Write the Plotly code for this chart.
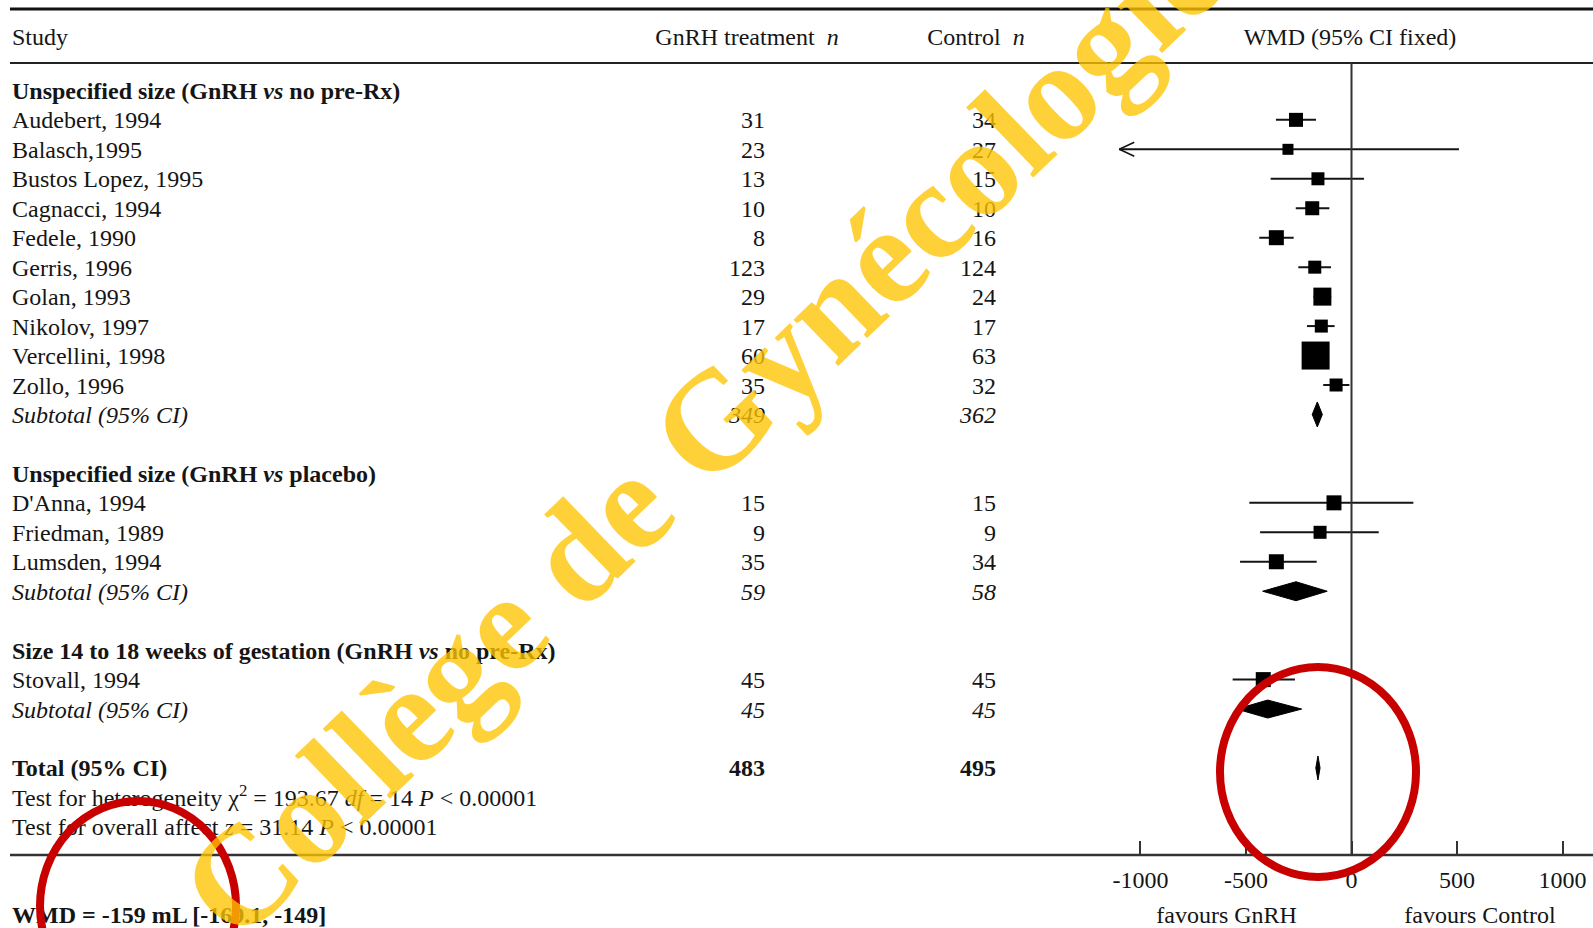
import plotly.graph_objects as go

# ---------------------------------------------------------------- data
GROUP_TITLES = [
    "Unspecified size (GnRH <i>vs</i> no pre-Rx)",
    "Unspecified size (GnRH <i>vs</i> placebo)",
    "Size 14 to 18 weeks of gestation (GnRH <i>vs</i> no pre-Rx)",
]
STUDIES = [
    "Audebert, 1994", "Balasch,1995", "Bustos Lopez, 1995", "Cagnacci, 1994",
    "Fedele, 1990", "Gerris, 1996", "Golan, 1993", "Nikolov, 1997",
    "Vercellini, 1998", "Zollo, 1996",
    "D'Anna, 1994", "Friedman, 1989", "Lumsden, 1994",
    "Stovall, 1994",
]
STUDY_GROUP = [0] * 10 + [1] * 3 + [2]
N_GNRH = [31, 23, 13, 10, 8, 123, 29, 17, 60, 35, 15, 9, 35, 45]
N_CTRL = [34, 27, 15, 10, 16, 124, 24, 17, 63, 32, 15, 9, 34, 45]
WMD = [-263, -301, -159, -186, -356, -174, -138, -143, -170, -73, -83, -149, -356, -418]
CI_LO = [-358, -1100, -383, -264, -437, -252, -180, -211, -210, -134, -484, -433, -528, -563]
CI_HI = [-168, 509, 59, -105, -274, -97, -96, -80, -130, -10, 293, 129, -165, -268]

SUB_N_GNRH = [349, 59, 45]
SUB_N_CTRL = [362, 58, 45]
SUB_WMD = [-162, -263, -397]
SUB_LO = [-186, -421, -544]
SUB_HI = [-138, -115, -236]

TOTAL_N_GNRH = 483
TOTAL_N_CTRL = 495
TOTAL_WMD = -159
TOTAL_LO = -169.1
TOTAL_HI = -149

HETEROGENEITY = "Test for heterogeneity \u03c7<sup>2</sup> = 193.67 <i>df</i> = 14 <i>P</i> &lt; 0.00001"
OVERALL = "Test for overall affect <i>z</i> = 31.14 <i>P</i> &lt; 0.00001"
SUMMARY = "<b>WMD = -159 mL [-169.1, -149]</b>"

TICK_VALUES = [-1000, -500, 0, 500, 1000]
TICK_LABELS = ["-1000", "-500", "0", "500", "1000"]
AXIS_MIN = -1100  # CI ends at or beyond this are drawn as arrows

# ---------------------------------------------------------------- styling
BOX_PX = [14, 11, 13, 14, 15, 13, 18, 13, 28, 13, 15, 13, 15, 15]
DIAMOND_HALF_PX = [12.5, 9.5, 9, 12]

W, H = 1593, 928
ZERO_PX = 1351.5
PX_PER_UNIT = 0.2111
ROW0_PX = 90.4
ROW_PX = 29.46
TEXT_NUDGE_PX = 2.5
COL_LABEL = 12
COL_GNRH = 765
COL_CTRL = 996

FONT = "Liberation Serif, Times New Roman, serif"
FS = 24
INK = "#151515"
RULE = "#333333"


def px_to_row(py):
    return (py - ROW0_PX) / ROW_PX


NUDGE = TEXT_NUDGE_PX / ROW_PX

# ---------------------------------------------------------------- table layout
label_rows, label_txt = [], []
num_rows, gnrh_txt, ctrl_txt = [], [], []
study_row, sub_row = {}, {}

r = 0
for g, title in enumerate(GROUP_TITLES):
    label_rows.append(r); label_txt.append(f"<b>{title}</b>"); r += 1
    for i, name in enumerate(STUDIES):
        if STUDY_GROUP[i] != g:
            continue
        study_row[i] = r
        label_rows.append(r); label_txt.append(name)
        num_rows.append(r); gnrh_txt.append(str(N_GNRH[i])); ctrl_txt.append(str(N_CTRL[i]))
        r += 1
    sub_row[g] = r
    label_rows.append(r); label_txt.append("<i>Subtotal (95% CI)</i>")
    num_rows.append(r); gnrh_txt.append(f"<i>{SUB_N_GNRH[g]}</i>"); ctrl_txt.append(f"<i>{SUB_N_CTRL[g]}</i>")
    r += 2
total_row = r
label_rows.append(r); label_txt.append("<b>Total (95% CI)</b>")
num_rows.append(r); gnrh_txt.append(f"<b>{TOTAL_N_GNRH}</b>"); ctrl_txt.append(f"<b>{TOTAL_N_CTRL}</b>")
label_rows += [r + 1, r + 2]
label_txt += [HETEROGENEITY, OVERALL]

fig = go.Figure()

txtfont = dict(family=FONT, size=FS, color=INK)


def text_trace(xs, ys, texts, pos):
    fig.add_trace(go.Scatter(
        x=xs, y=[v + NUDGE for v in ys], text=texts, mode="text", textposition=pos,
        textfont=txtfont, xaxis="x2", yaxis="y", hoverinfo="skip", showlegend=False,
    ))


text_trace([COL_LABEL] * len(label_rows), label_rows, label_txt, "middle right")
text_trace([COL_GNRH] * len(num_rows), num_rows, gnrh_txt, "middle left")
text_trace([COL_CTRL] * len(num_rows), num_rows, ctrl_txt, "middle left")

# headers and footer
head_row = px_to_row(36.6)
text_trace([COL_LABEL], [head_row], ["Study"], "middle right")
text_trace([747, 976, 1350], [head_row] * 3,
           ["GnRH treatment&nbsp;&nbsp;<i>n</i>", "Control&nbsp;&nbsp;<i>n</i>", "WMD (95% CI fixed)"],
           "middle center")
foot_row = px_to_row(914)
text_trace([COL_LABEL], [foot_row], [SUMMARY], "middle right")
text_trace([1226.6, 1480], [foot_row] * 2, ["favours GnRH", "favours Control"], "middle center")

# ---------------------------------------------------------------- forest marks
for i in range(len(STUDIES)):
    y = study_row[i]
    lo = max(CI_LO[i], AXIS_MIN)
    fig.add_trace(go.Scatter(
        x=[lo, CI_HI[i]], y=[y, y], mode="lines",
        line=dict(color=INK, width=2), hoverinfo="skip", showlegend=False,
    ))
    if CI_LO[i] <= AXIS_MIN:
        dx = 15 / PX_PER_UNIT
        dy = 7 / ROW_PX
        fig.add_trace(go.Scatter(
            x=[lo + dx, lo, lo + dx], y=[y - dy, y, y + dy], mode="lines",
            line=dict(color=INK, width=1.6), hoverinfo="skip", showlegend=False,
        ))
    fig.add_trace(go.Scatter(
        x=[WMD[i]], y=[y], mode="markers",
        marker=dict(symbol="square", size=BOX_PX[i], color="#000000", line=dict(width=0)),
        hoverinfo="skip", showlegend=False,
    ))


def diamond(est, lo, hi, y, half_px):
    h = half_px / ROW_PX
    fig.add_trace(go.Scatter(
        x=[lo, est, hi, est, lo], y=[y, y - h, y, y + h, y],
        mode="lines", fill="toself", fillcolor="#000000",
        line=dict(color="#000000", width=1), hoverinfo="skip", showlegend=False,
    ))


for g in range(len(GROUP_TITLES)):
    diamond(SUB_WMD[g], SUB_LO[g], SUB_HI[g], sub_row[g], DIAMOND_HALF_PX[g])
diamond(TOTAL_WMD, TOTAL_LO, TOTAL_HI, total_row, DIAMOND_HALF_PX[3])


# ---------------------------------------------------------------- rules
def px(x):
    return x / W


def py(y):
    return 1 - y / H


shapes = [
    dict(type="line", xref="paper", yref="paper", x0=px(10), x1=1, y0=py(9), y1=py(9),
         line=dict(color="#111111", width=3)),
    dict(type="line", xref="paper", yref="paper", x0=px(10), x1=1, y0=py(63), y1=py(63),
         line=dict(color="#222222", width=2)),
    dict(type="line", xref="paper", yref="paper", x0=px(10), x1=1, y0=py(855), y1=py(855),
         line=dict(color=RULE, width=2.5)),
    dict(type="line", xref="x", yref="paper", x0=0, x1=0, y0=py(63), y1=py(855),
         line=dict(color=RULE, width=2)),
    # highlight rings
    dict(type="circle", xref="paper", yref="paper", layer="above",
         x0=px(1220), x1=px(1416), y0=py(667), y1=py(877),
         line=dict(color="#C80000", width=8)),
    dict(type="circle", xref="paper", yref="paper", layer="above",
         x0=px(40), x1=px(236), y0=py(801), y1=py(1011),
         line=dict(color="#C80000", width=8)),
]

watermark = dict(
    text="<b>Collège de Gynécologie</b>", xref="paper", yref="paper",
    x=px(702), y=py(432), xanchor="center", yanchor="middle",
    textangle=-44, showarrow=False,
    font=dict(family=FONT, size=140, color="rgba(255,196,0,0.78)"),
)

fig.update_layout(
    width=W, height=H, margin=dict(l=0, r=0, t=0, b=0),
    paper_bgcolor="white", plot_bgcolor="white",
    shapes=shapes, annotations=[watermark],
    xaxis=dict(
        domain=[0, 1], range=[(0 - ZERO_PX) / PX_PER_UNIT, (W - ZERO_PX) / PX_PER_UNIT],
        anchor="free", position=py(855),
        showgrid=False, zeroline=False, showline=False,
        tickmode="array", tickvals=TICK_VALUES, ticktext=TICK_LABELS,
        ticks="inside", ticklen=14, tickwidth=2, tickcolor=RULE,
        ticklabelstandoff=8,
        tickfont=dict(family=FONT, size=FS, color=INK),
    ),
    xaxis2=dict(range=[0, W], overlaying="x", anchor="y", visible=False),
    yaxis=dict(domain=[0, 1], range=[px_to_row(H), px_to_row(0)], visible=False),
)

fig.write_html("out.html")
